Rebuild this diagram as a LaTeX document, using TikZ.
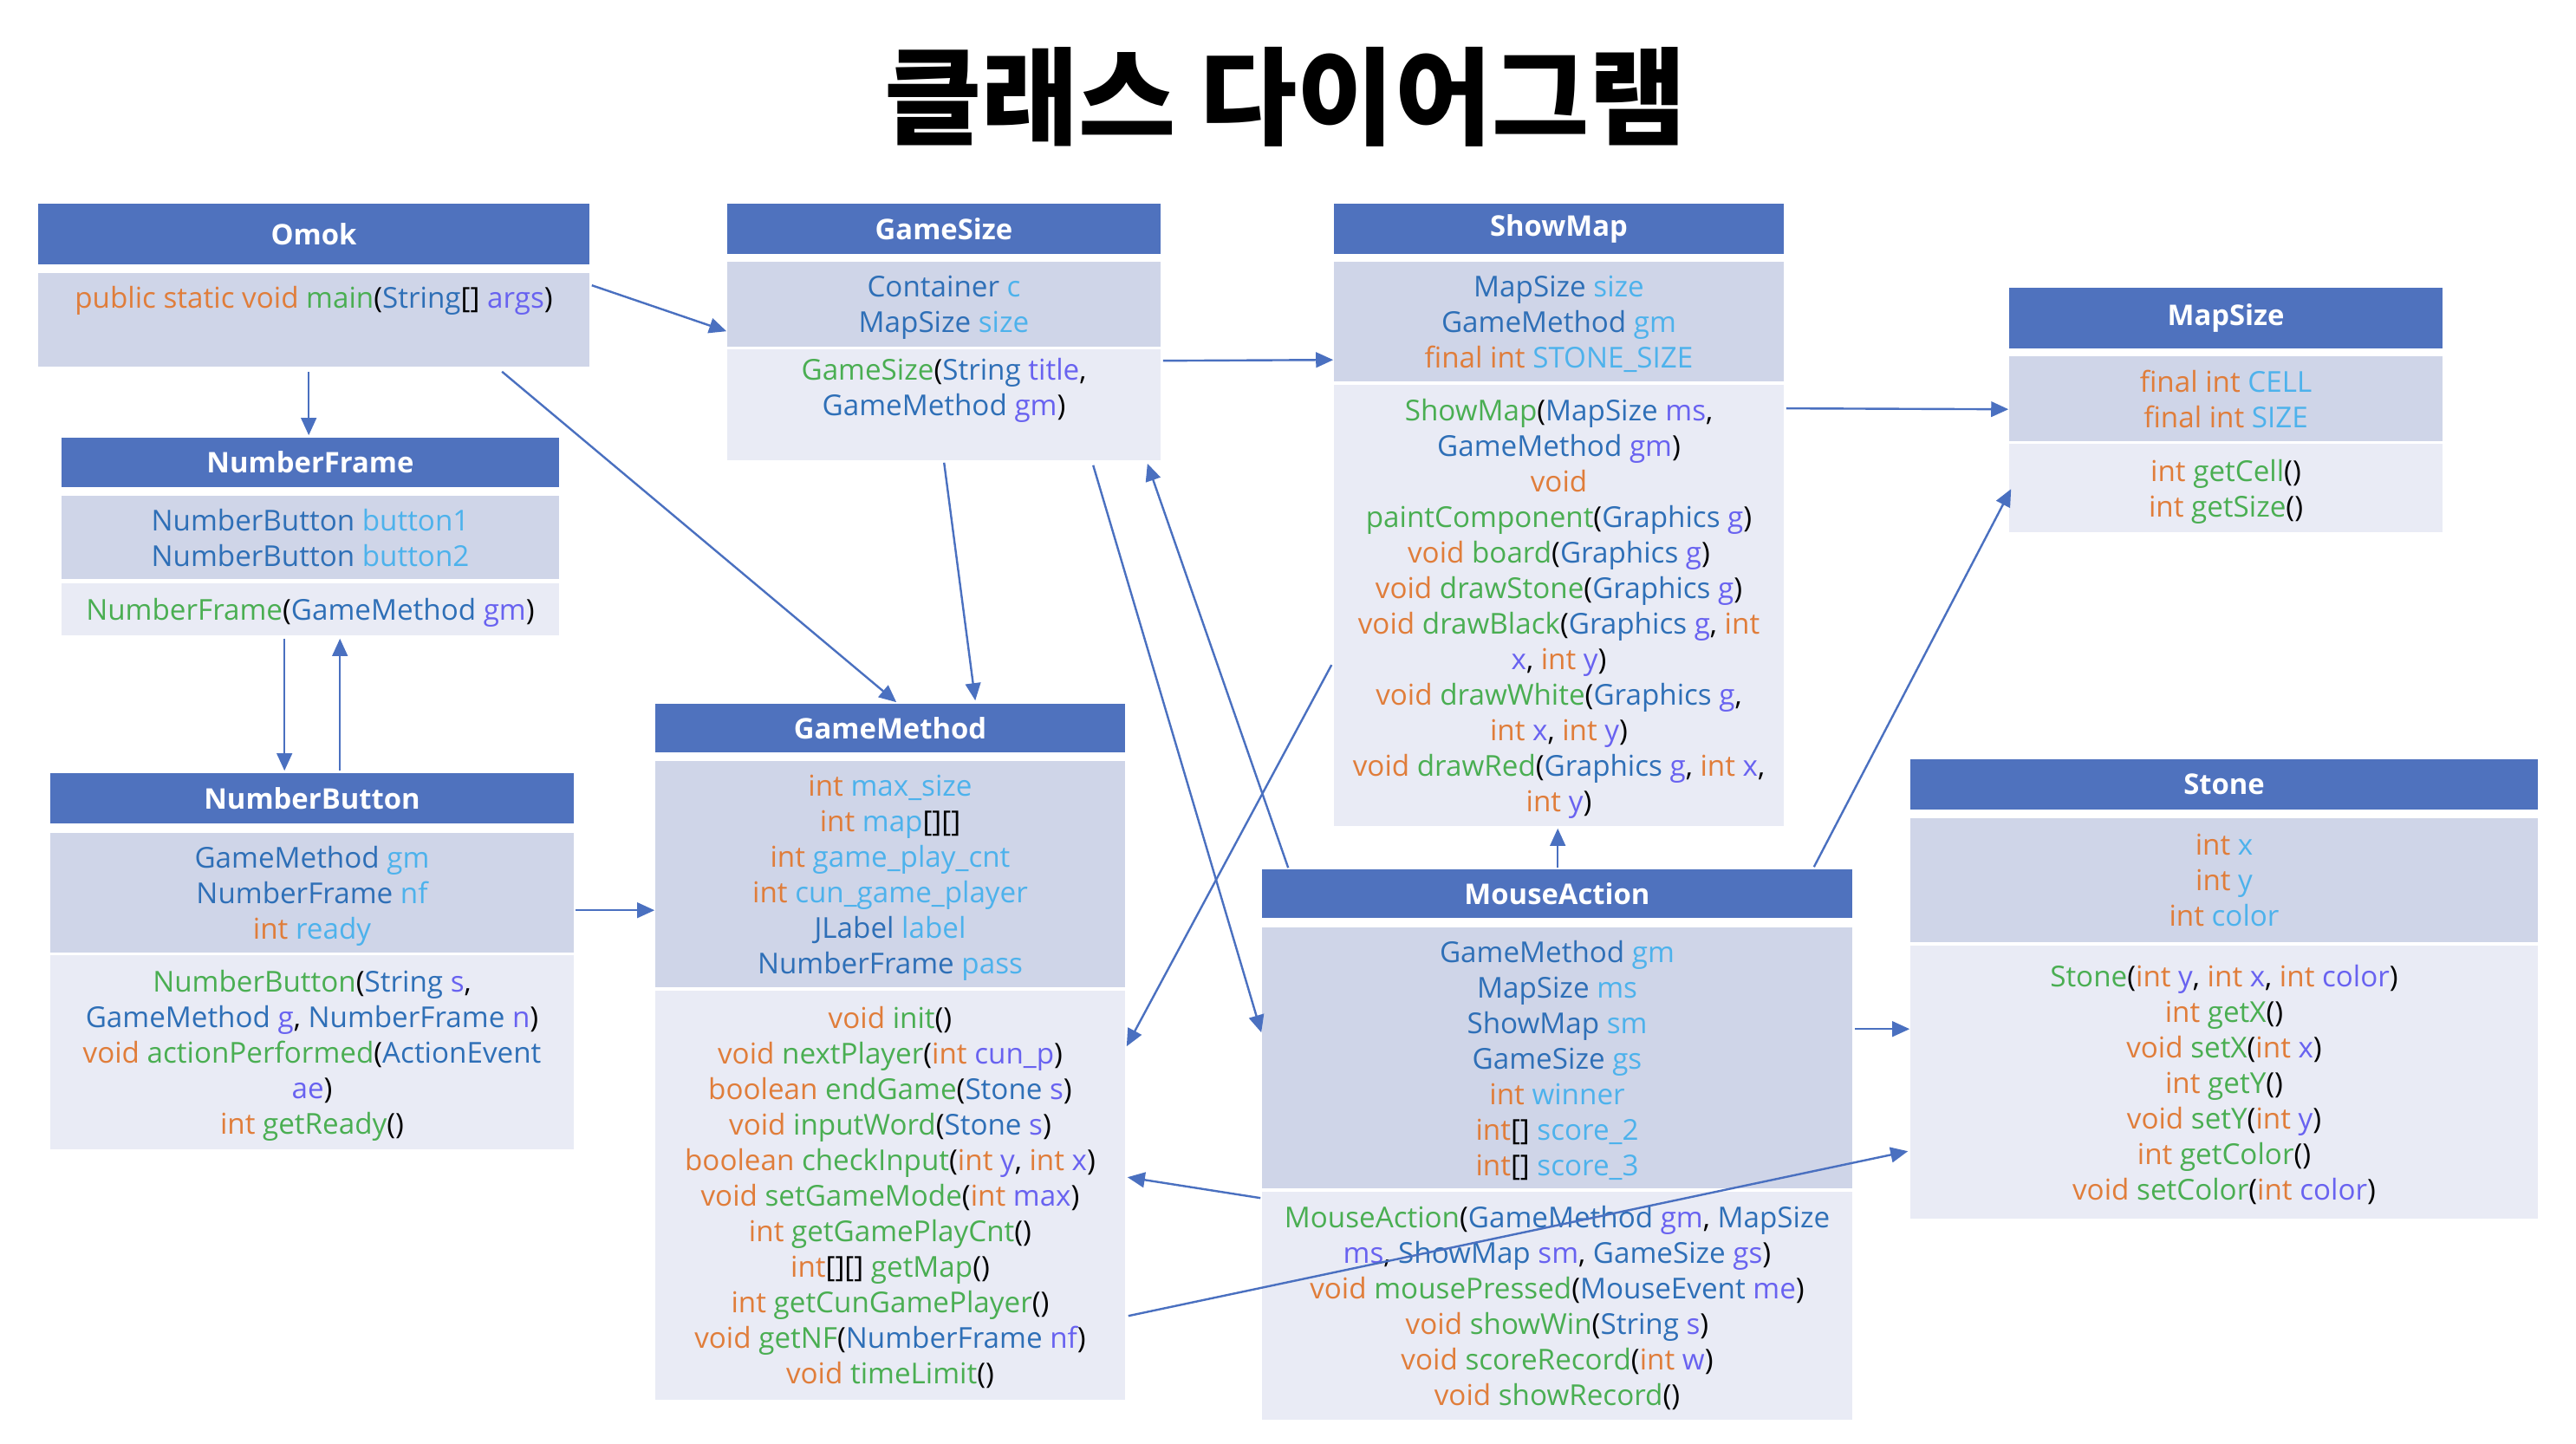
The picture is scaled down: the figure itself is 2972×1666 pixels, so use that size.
\documentclass[tikz,border=0pt]{standalone}
\usepackage{fontspec}
\setmainfont{Open Sans}
\newfontfamily\krfont{Noto Sans CJK KR}
\usetikzlibrary{arrows.meta}
\definecolor{hdrc}{HTML}{4F72BE}
\definecolor{attrc}{HTML}{CFD5E8}
\definecolor{methc}{HTML}{E9EBF5}
\definecolor{kwc}{HTML}{E07D3A}
\definecolor{fnc}{HTML}{4AAE52}
\definecolor{tyc}{HTML}{2E6FB7}
\definecolor{fdc}{HTML}{4DB2EC}
\definecolor{pmc}{HTML}{6862F0}
\definecolor{linec}{HTML}{4A70C0}
\def\K#1{\textcolor{kwc}{#1}}
\def\Fn#1{\textcolor{fnc}{#1}}
\def\Ty#1{\textcolor{tyc}{#1}}
\def\Fd#1{\textcolor{fdc}{#1}}
\def\Pm#1{\textcolor{pmc}{#1}}
\tikzset{
  bx/.style n args={4}{minimum width={(#3-#1)*0.25pt}, minimum height={(#4-#2)*0.25pt},
     at={({(#1+#3)/2},{(#2+#4)/2})}},
  hdr/.style={fill=hdrc, inner sep=0pt, text=white, font=\fontsize{8.2}{10}\selectfont\bfseries},
  attr/.style={fill=attrc, inner sep=0pt, align=center, font=\fontsize{8.3}{10.25}\selectfont,
     text depth=0pt},
  meth/.style={fill=methc, inner sep=0pt, align=center, font=\fontsize{8.3}{10.25}\selectfont,
     text depth=0pt},
  conn/.style={draw=linec, line width=0.6pt, -{Triangle[length=5pt,width=4.4pt]}}
}
\begin{document}
\begin{tikzpicture}[x=0.25pt,y=-0.25pt]
\fill[white] (0,0) rectangle (2972,1666);
\useasboundingbox (0,0) rectangle (2972,1666);

\node[font=\krfont\bfseries\fontsize{30.5}{36}\selectfont] (title) at (1483,112) {클래스 다이어그램};

% Omok
\node[hdr, bx={44}{235}{680}{305}] (omh) {Omok};
\node[attr, bx={44}{315}{680}{423}, text depth=3pt] (omb) {\K{public static void} \Fn{main}(\Ty{String}[] \Pm{args})\\ \strut};

% GameSize
\node[hdr, bx={839}{235}{1339}{293}] (gsh) {GameSize};
\node[attr, bx={839}{302}{1339}{400}] (gsa) {\Ty{Container} \Fd{c}\\ \Ty{MapSize} \Fd{size}};
\node[meth, bx={839}{403}{1339}{531}] (gsm) {\Fn{GameSize}(\Ty{String} \Pm{title},\\ \Ty{GameMethod} \Pm{gm})\\ \strut};

% ShowMap
\node[hdr, bx={1539}{235}{2058}{293}] (smh) {ShowMap};
\node[attr, bx={1539}{302}{2058}{440}] (sma) {\Ty{MapSize} \Fd{size}\\ \Ty{GameMethod} \Fd{gm}\\ \K{final int} \Fd{STONE\_SIZE}};
\node[meth, bx={1539}{444}{2058}{953}] (smm) {\Fn{ShowMap}(\Ty{MapSize} \Pm{ms},\\
\Ty{GameMethod} \Pm{gm})\\
\K{void}\\
\Fn{paintComponent}(\Ty{Graphics} \Pm{g})\\
\K{void} \Fn{board}(\Ty{Graphics} \Pm{g})\\
\K{void} \Fn{drawStone}(\Ty{Graphics} \Pm{g})\\
\K{void} \Fn{drawBlack}(\Ty{Graphics} \Pm{g}, \K{int}\\
\Pm{x}, \K{int} \Pm{y})\\
\K{void} \Fn{drawWhite}(\Ty{Graphics} \Pm{g},\\
\K{int} \Pm{x}, \K{int} \Pm{y})\\
\K{void} \Fn{drawRed}(\Ty{Graphics} \Pm{g}, \K{int} \Pm{x},\\
\K{int} \Pm{y})};

% MapSize
\node[hdr, bx={2318}{332}{2818}{402}] (msh) {MapSize};
\node[attr, bx={2318}{411}{2818}{509}] (msa) {\K{final int} \Fd{CELL}\\ \K{final int} \Fd{SIZE}};
\node[meth, bx={2318}{512}{2818}{614}] (msm) {\K{int} \Fn{getCell}()\\ \K{int} \Fn{getSize}()};

% NumberFrame
\node[hdr, bx={71}{505}{645}{562}] (nfh) {NumberFrame};
\node[attr, bx={71}{572}{645}{668}] (nfa) {\Ty{NumberButton} \Fd{button1}\\ \Ty{NumberButton} \Fd{button2}};
\node[meth, bx={71}{673}{645}{733}] (nfm) {\Fn{NumberFrame}(\Ty{GameMethod} \Pm{gm})};

% NumberButton
\node[hdr, bx={58}{892}{662}{950}] (nbh) {NumberButton};
\node[attr, bx={58}{961}{662}{1099}] (nba) {\Ty{GameMethod} \Fd{gm}\\ \Ty{NumberFrame} \Fd{nf}\\ \K{int} \Fd{ready}};
\node[meth, bx={58}{1102}{662}{1326}] (nbm) {\Fn{NumberButton}(\Ty{String} \Pm{s},\\
\Ty{GameMethod} \Pm{g}, \Ty{NumberFrame} \Pm{n})\\
\K{void} \Fn{actionPerformed}(\Ty{ActionEvent}\\
\Pm{ae})\\
\K{int} \Fn{getReady}()};

% GameMethod
\node[hdr, bx={756}{812}{1298}{868}] (gmh) {GameMethod};
\node[attr, bx={756}{878}{1298}{1139}] (gma) {\K{int} \Fd{max\_size}\\ \K{int} \Fd{map}[][]\\ \K{int} \Fd{game\_play\_cnt}\\ \K{int} \Fd{cun\_game\_player}\\ \Ty{JLabel} \Fd{label}\\ \Ty{NumberFrame} \Fd{pass}};
\node[meth, bx={756}{1143}{1298}{1615}] (gmm) {\K{void} \Fn{init}()\\
\K{void} \Fn{nextPlayer}(\K{int} \Pm{cun\_p})\\
\K{boolean} \Fn{endGame}(\Ty{Stone} \Pm{s})\\
\K{void} \Fn{inputWord}(\Ty{Stone} \Pm{s})\\
\K{boolean} \Fn{checkInput}(\K{int} \Pm{y}, \K{int} \Pm{x})\\
\K{void} \Fn{setGameMode}(\K{int} \Pm{max})\\
\K{int} \Fn{getGamePlayCnt}()\\
\K{int}[][] \Fn{getMap}()\\
\K{int} \Fn{getCunGamePlayer}()\\
\K{void} \Fn{getNF}(\Ty{NumberFrame} \Pm{nf})\\
\K{void} \Fn{timeLimit}()};

% MouseAction
\node[hdr, bx={1456}{1003}{2137}{1059}] (mah) {MouseAction};
\node[attr, bx={1456}{1070}{2137}{1371}] (maa) {\Ty{GameMethod} \Fd{gm}\\ \Ty{MapSize} \Fd{ms}\\ \Ty{ShowMap} \Fd{sm}\\ \Ty{GameSize} \Fd{gs}\\ \K{int} \Fd{winner}\\ \K{int}[] \Fd{score\_2}\\ \K{int}[] \Fd{score\_3}};
\node[meth, bx={1456}{1375}{2137}{1638}] (mam) {\Fn{MouseAction}(\Ty{GameMethod} \Pm{gm}, \Ty{MapSize}\\
\Pm{ms}, \Ty{ShowMap} \Pm{sm}, \Ty{GameSize} \Pm{gs})\\
\K{void} \Fn{mousePressed}(\Ty{MouseEvent} \Pm{me})\\
\K{void} \Fn{showWin}(\Ty{String} \Pm{s})\\
\K{void} \Fn{scoreRecord}(\K{int} \Pm{w})\\
\K{void} \Fn{showRecord}()};

% Stone
\node[hdr, bx={2204}{876}{2928}{934}] (sth) {Stone};
\node[attr, bx={2204}{944}{2928}{1087}] (sta) {\K{int} \Fd{x}\\ \K{int} \Fd{y}\\ \K{int} \Fd{color}};
\node[meth, bx={2204}{1091}{2928}{1406}] (stm) {\Fn{Stone}(\K{int} \Pm{y}, \K{int} \Pm{x}, \K{int} \Pm{color})\\
\K{int} \Fn{getX}()\\
\K{void} \Fn{setX}(\K{int} \Pm{x})\\
\K{int} \Fn{getY}()\\
\K{void} \Fn{setY}(\K{int} \Pm{y})\\
\K{int} \Fn{getColor}()\\
\K{void} \Fn{setColor}(\K{int} \Pm{color})};

% connectors
\draw[conn] ([shift={(313,5)}]omb.south west) -- ([shift={(286,-2)}]nfh.north west);
\draw[conn] ([shift={(2,15)}]omb.north east) -- ([shift={(0,81)}]gsa.north west);
\draw[conn] ([shift={(536,5)}]omb.south west) -- ([shift={(279,-1)}]gmh.north west);
\draw[conn] ([shift={(251,2)}]gsm.south west) -- ([shift={(370,-3)}]gmh.north west);
\draw[conn] ([shift={(2,14)}]gsm.north east) -- ([shift={(0,114)}]sma.north west);
\draw[conn] ([shift={(423,5)}]gsm.south west) -- ([shift={(0,122)}]maa.north west);
\draw[conn] ([shift={(31,-1)}]mah.north west) -- ([shift={(-16,3)}]gsm.south east);
\draw[conn] ([shift={(-2,324)}]smm.north west) -- ([shift={(1,65)}]gmm.north east);
\draw[conn] ([shift={(2,28)}]smm.north east) -- ([shift={(0,62)}]msa.north west);
\draw[conn] ([shift={(342,-1)}]mah.north west) -- ([shift={(259,2)}]smm.south west);
\draw[conn] ([shift={(-45,-2)}]mah.north east) -- ([shift={(3,53)}]msm.north west);
\draw[conn] ([shift={(2,118)}]maa.north east) -- ([shift={(0,97)}]stm.north west);
\draw[conn] ([shift={(-1,8)}]mam.north west) -- ([shift={(2,216)}]gmm.north east);
\draw[conn] ([shift={(3,376)}]gmm.north east) -- ([shift={(-2,238)}]stm.north west);
\draw[conn] ([shift={(258,3)}]nfm.south west) -- ([shift={(271,-2)}]nbh.north west);
\draw[conn] ([shift={(335,-2)}]nbh.north west) -- ([shift={(322,3)}]nfm.south west);
\draw[conn] ([shift={(1,90)}]nba.north east) -- ([shift={(0,173)}]gma.north west);
\end{tikzpicture}
\end{document}
